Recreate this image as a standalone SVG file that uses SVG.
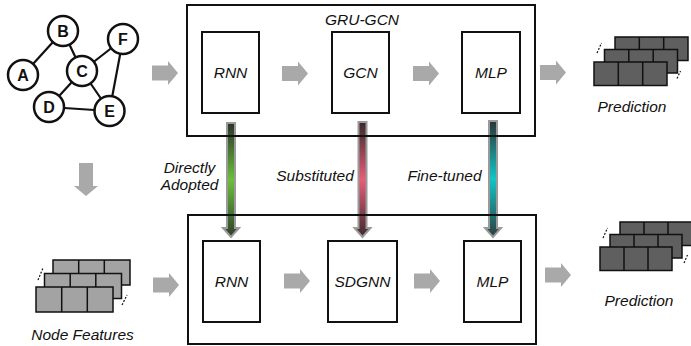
<svg xmlns="http://www.w3.org/2000/svg" xmlns:xlink="http://www.w3.org/1999/xlink" width="691" height="346" viewBox="0 0 691 346">
<style>
.t{font-family:"Liberation Sans",Arial,sans-serif;font-style:italic;font-size:15.5px;fill:#111;text-anchor:middle}
.lbl{font-family:"Liberation Sans",Arial,sans-serif;font-weight:bold;font-size:16px;fill:#111;text-anchor:middle}
.outer{fill:none;stroke:#111;stroke-width:2}
.box{fill:#fff;stroke:#111;stroke-width:2}
.gn{fill:#fff;stroke:#111;stroke-width:2.5}
.edge{stroke:#111;stroke-width:2.2}
.ga{fill:#a9a9a9}
.dk{fill:#5f5f5f;stroke:#111;stroke-width:1.5}
.lt{fill:#a3a3a3;stroke:#111;stroke-width:1.5}
.cl{stroke:#111;stroke-width:1.5}
.dash{stroke:#111;stroke-width:1.2;stroke-dasharray:2 1.5}
.bar{stroke:#9a9a9a;stroke-width:2}
</style>
<defs>
<path id="ra" d="M0,-7.5 H16 V-12 L26,0 L16,12 V7.5 H0 Z"/>
<linearGradient id="gG" x1="0" y1="0" x2="0" y2="1">
<stop offset="0" stop-color="#2b332a"/><stop offset="0.5" stop-color="#6cbf3c"/><stop offset="1" stop-color="#2e3f2b"/>
</linearGradient>
<linearGradient id="gP" x1="0" y1="0" x2="0" y2="1">
<stop offset="0" stop-color="#382a2c"/><stop offset="0.5" stop-color="#e85d78"/><stop offset="1" stop-color="#3e2a2e"/>
</linearGradient>
<linearGradient id="gT" x1="0" y1="0" x2="0" y2="1">
<stop offset="0" stop-color="#2a3536"/><stop offset="0.5" stop-color="#12c6c6"/><stop offset="1" stop-color="#2c3e3f"/>
</linearGradient>
</defs>

<g id="connectors">
<g id="graph-edges">
<line class="edge" x1="23" y1="75" x2="63" y2="31"/>
<line class="edge" x1="63" y1="31" x2="82" y2="71"/>
<line class="edge" x1="82" y1="71" x2="123" y2="39"/>
<line class="edge" x1="82" y1="71" x2="49" y2="107"/>
<line class="edge" x1="82" y1="71" x2="109.5" y2="111"/>
<line class="edge" x1="49" y1="107" x2="109.5" y2="111"/>
<line class="edge" x1="123" y1="39" x2="109.5" y2="111"/>
</g>
<g id="flow-arrows" class="ga">
<use xlink:href="#ra" transform="translate(152,73)"/>
<use xlink:href="#ra" transform="translate(282,73.5)"/>
<use xlink:href="#ra" transform="translate(413,73.5)"/>
<use xlink:href="#ra" transform="translate(540,72.5)"/>
<use xlink:href="#ra" transform="translate(153,285)"/>
<use xlink:href="#ra" transform="translate(284,281)"/>
<use xlink:href="#ra" transform="translate(414,281)"/>
<use xlink:href="#ra" transform="translate(545,275)"/>
<path d="M79,163 H93 V186 H98 L86,196 L74,186 H79 Z"/>
</g>
<g id="transfer-bars">
<path class="bar" fill="url(#gG)" d="M227,123 H235 V228 H239 L231,237 L223,228 H227 Z"/>
<path class="bar" fill="url(#gP)" d="M358.5,122 H366.5 V228 H370.5 L362.5,237 L354.5,228 H358.5 Z"/>
<path class="bar" fill="url(#gT)" d="M489,121 H497 V228 H501 L493,237 L485,228 H489 Z"/>
</g>
</g>

<g id="graph-nodes">
<g id="node-A"><circle class="gn" cx="23" cy="75" r="15"/><text class="lbl" x="23" y="81">A</text></g>
<g id="node-B"><circle class="gn" cx="63" cy="31" r="15"/><text class="lbl" x="63" y="37">B</text></g>
<g id="node-C"><circle class="gn" cx="82" cy="71" r="15"/><text class="lbl" x="82" y="77">C</text></g>
<g id="node-F"><circle class="gn" cx="123" cy="39" r="15"/><text class="lbl" x="123" y="45">F</text></g>
<g id="node-D"><circle class="gn" cx="49" cy="107" r="15"/><text class="lbl" x="49" y="113">D</text></g>
<g id="node-E"><circle class="gn" cx="109.5" cy="111" r="15"/><text class="lbl" x="109.5" y="117">E</text></g>
</g>

<g id="gru-gcn">
<rect class="outer" x="187" y="5" width="348" height="131"/>
<text class="t" x="362" y="25">GRU-GCN</text>
</g>
<g id="top-rnn"><rect class="box" x="202" y="32" width="57" height="81"/><text class="t" x="230.5" y="78">RNN</text></g>
<g id="top-gcn"><rect class="box" x="332" y="32" width="57" height="81"/><text class="t" x="360.5" y="78">GCN</text></g>
<g id="top-mlp"><rect class="box" x="462" y="32" width="58" height="81"/><text class="t" x="491" y="78">MLP</text></g>

<g id="bottom-model">
<rect class="outer" x="188" y="215" width="348" height="129"/>
</g>
<g id="bottom-rnn"><rect class="box" x="203" y="241" width="57" height="81"/><text class="t" x="231.5" y="287">RNN</text></g>
<g id="bottom-sdgnn"><rect class="box" x="328" y="241" width="69" height="81"/><text class="t" x="362.5" y="287">SDGNN</text></g>
<g id="bottom-mlp"><rect class="box" x="464" y="241" width="57" height="81"/><text class="t" x="492.5" y="287">MLP</text></g>

<g id="labels">
<text class="t" x="189.5" y="173">Directly</text>
<text class="t" x="189.5" y="190">Adopted</text>
<text class="t" x="315" y="181">Substituted</text>
<text class="t" x="444.5" y="181">Fine-tuned</text>
</g>

<g id="prediction-top">
<rect class="dk" x="615" y="37" width="73" height="23.5"/><line class="cl" x1="639.3" y1="37" x2="639.3" y2="60.5"/><line class="cl" x1="663.7" y1="37" x2="663.7" y2="60.5"/>
<rect class="dk" x="604.5" y="49.5" width="73" height="23.5"/><line class="cl" x1="628.8" y1="49.5" x2="628.8" y2="73"/><line class="cl" x1="653.2" y1="49.5" x2="653.2" y2="73"/>
<rect class="dk" x="594" y="62" width="73" height="23.5"/><line class="cl" x1="618.3" y1="62" x2="618.3" y2="85.5"/><line class="cl" x1="642.7" y1="62" x2="642.7" y2="85.5"/>
<line class="dash" x1="597" y1="53" x2="601.5" y2="43"/>
<line class="dash" x1="677" y1="78.5" x2="680.5" y2="71"/>
<text class="t" x="632" y="112">Prediction</text>
</g>

<g id="prediction-bottom">
<rect class="dk" x="620" y="222" width="72" height="23.5"/><line class="cl" x1="644" y1="222" x2="644" y2="245.5"/><line class="cl" x1="668" y1="222" x2="668" y2="245.5"/>
<rect class="dk" x="610" y="234.5" width="72" height="23.5"/><line class="cl" x1="634" y1="234.5" x2="634" y2="258"/><line class="cl" x1="658" y1="234.5" x2="658" y2="258"/>
<rect class="dk" x="600" y="247" width="72" height="23.5"/><line class="cl" x1="624" y1="247" x2="624" y2="270.5"/><line class="cl" x1="648" y1="247" x2="648" y2="270.5"/>
<line class="dash" x1="603" y1="238" x2="607.5" y2="228"/>
<line class="dash" x1="684" y1="263" x2="687.5" y2="255"/>
<text class="t" x="639" y="306">Prediction</text>
</g>

<g id="node-features">
<rect class="lt" x="53" y="260" width="77" height="25"/><line class="cl" x1="78.7" y1="260" x2="78.7" y2="285"/><line class="cl" x1="104.3" y1="260" x2="104.3" y2="285"/>
<rect class="lt" x="44.5" y="273.5" width="77" height="25"/><line class="cl" x1="70.2" y1="273.5" x2="70.2" y2="298.5"/><line class="cl" x1="95.8" y1="273.5" x2="95.8" y2="298.5"/>
<rect class="lt" x="36" y="287" width="77" height="25"/><line class="cl" x1="61.7" y1="287" x2="61.7" y2="312"/><line class="cl" x1="87.3" y1="287" x2="87.3" y2="312"/>
<line class="dash" x1="38" y1="280" x2="43" y2="268"/>
<line class="dash" x1="122" y1="305" x2="127" y2="295"/>
<text class="t" x="82.5" y="340">Node Features</text>
</g>
</svg>
